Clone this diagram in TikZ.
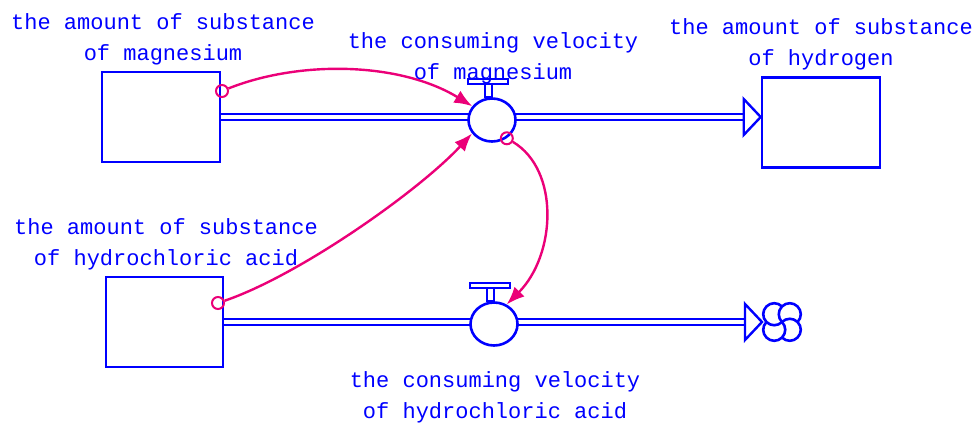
\documentclass[tikz,border=0pt]{standalone}
\usepackage{fontspec}
\setmonofont{Liberation Mono}
\usetikzlibrary{arrows.meta,calc,shapes.geometric}
\definecolor{vblue}{RGB}{0,0,255}
\definecolor{vpink}{RGB}{235,0,120}
\begin{document}
\begin{tikzpicture}[x=1pt,y=-1pt,
 stock/.style={rectangle,draw=vblue,line width=2.6pt,fill=white,minimum width=118pt,minimum height=90pt,inner sep=0pt},
 valve/.style={ellipse,draw=vblue,line width=2.6pt,fill=white,minimum width=47pt,minimum height=43pt,inner sep=0pt},
 pipe/.style={draw=vblue,line width=2.2pt,double=white,double distance=3.2pt},
 lbl/.style={text=vblue,font=\ttfamily\fontsize{22}{31.5}\selectfont,align=center,inner sep=0pt},
 link/.style={draw=vpink,line width=2.4pt,-{Latex[length=18pt,width=14pt]}},
 origin/.style={circle,draw=vpink,line width=2pt,minimum size=12pt,inner sep=0pt},
 flowhead/.style={draw=vblue,line width=2.4pt,fill=white,line join=miter},
 valvepart/.style={draw=vblue,line width=2pt,fill=white},
 cloudline/.style={draw=vblue,line width=2.6pt},
]
\useasboundingbox (0,0) rectangle (980,425);

% stocks
\node[stock] (mg) at (161,117) {};
\node[stock] (h2) at (821,122.5) {};
\node[stock,minimum width=117pt] (hcl) at (164.5,322) {};

% flow tips and cloud
\coordinate (t1) at (h2.west |- mg.east);
\coordinate (cl) at (782,322);
\coordinate (t2) at ($(cl)+(-20,0)$);

% pipes
\draw[pipe] (mg.east) -- ($(t1)+(-17,0)$);
\draw[pipe] (hcl.east) -- ($(t2)+(-17,0)$);
\draw[flowhead] (t1) -- ++(-17,-18) -- ++(0,36) -- cycle;
\draw[flowhead] (t2) -- ++(-17,-18) -- ++(0,36) -- cycle;

% cloud
\foreach \a in {45,135,225,315} {
  \draw[cloudline] (cl) arc[start angle=\a+180, delta angle=270, radius=11];
}

% valves
\node[valve] (v1) at (492,120) {};
\node[valve] (v2) at (494,324) {};
\foreach \v in {v1,v2} {
  \draw[valvepart] ($(\v.north)+(-7,-13)$) rectangle ($(\v.north)+(0,0)$);
  \draw[valvepart] ($(\v.north)+(-24,-18)$) rectangle ($(\v.north)+(16,-13)$);
}

% links
\node[origin] (s1) at (222,91) {};
\node[origin] (s2) at (218,303) {};
\node[origin] (s3) at (v1.309) {};
\draw[link] (s1) .. controls (300,60) and (400,62) .. (v1.145);
\draw[link] (s2) .. controls (300,275) and (420,190) .. (v1.214);
\draw[link] (s3) .. controls (560,170) and (556,255) .. (v2.57);

% labels
\node[lbl] (l1) at (163,39.3) {the amount of substance\\of magnesium};
\node[lbl] (l2) at (493,58.3) {the consuming velocity\\of magnesium};
\node[lbl] (l3) at (821,44.3) {the amount of substance\\of hydrogen};
\node[lbl] (l4) at (166,244.3) {the amount of substance\\of hydrochloric acid};
\node[lbl] (l5) at (495,397.3) {the consuming velocity\\of hydrochloric acid};
\end{tikzpicture}
\end{document}
